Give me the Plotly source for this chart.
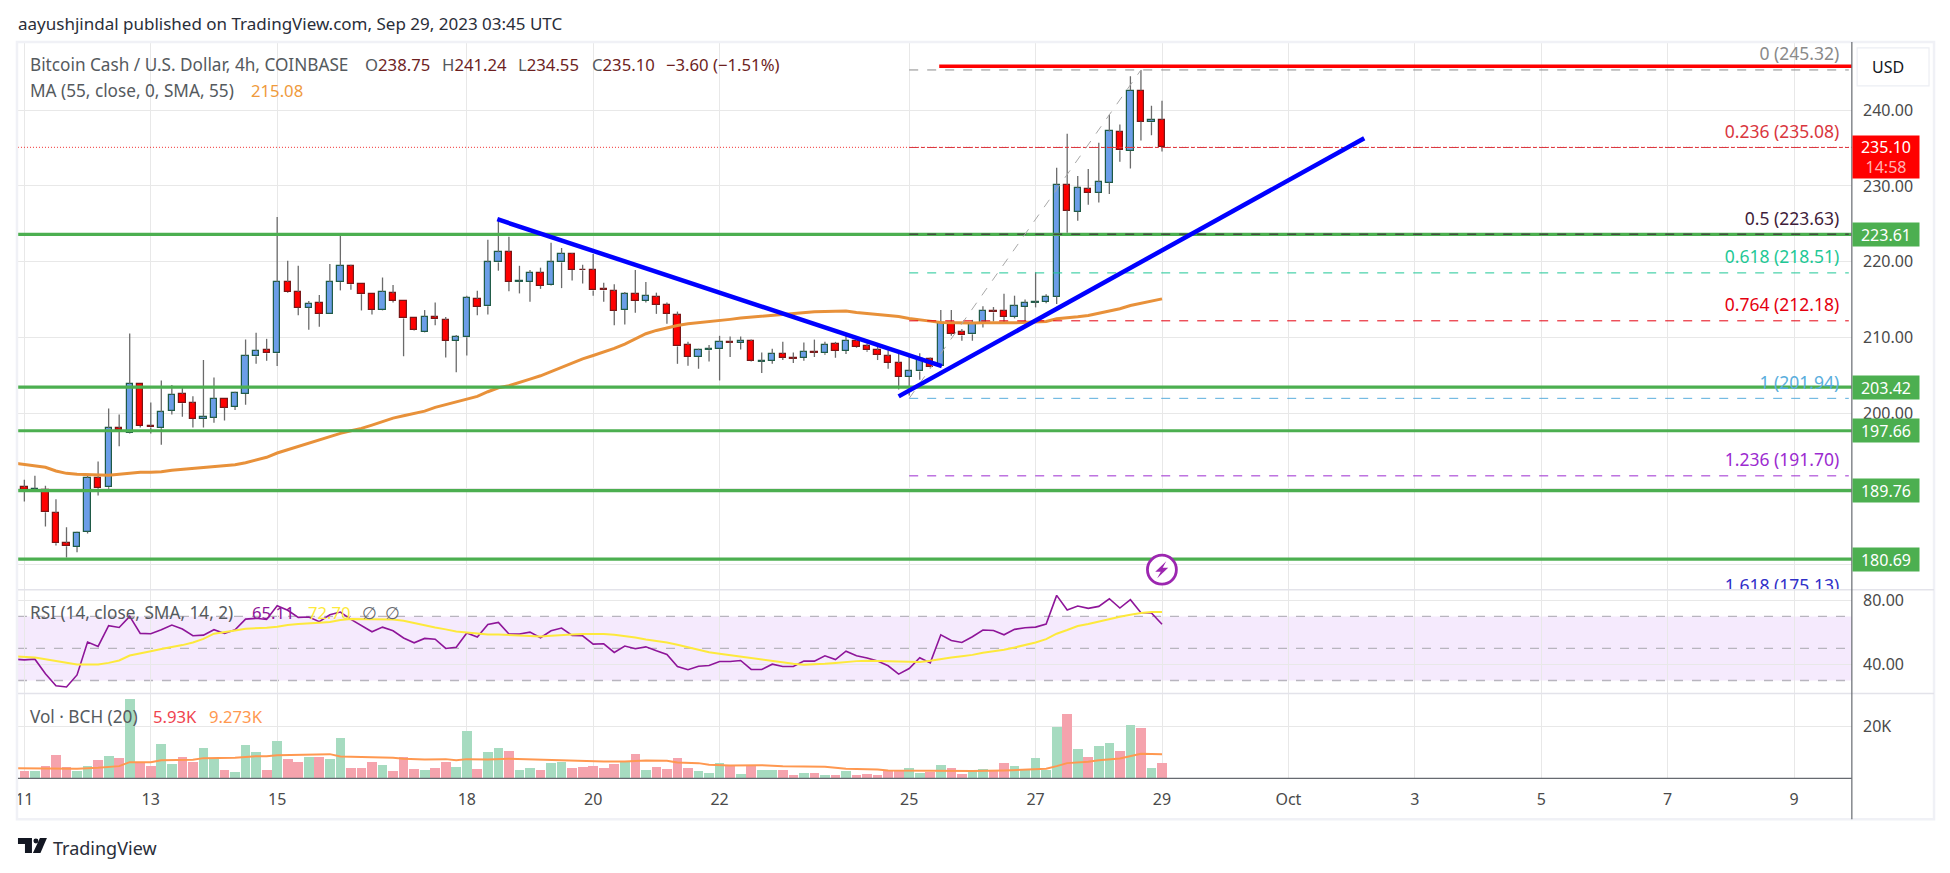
import plotly.graph_objects as go

W, H = 1950, 873

# ---------- data (one bar every 4h, index 0 = Sep 11 00:00) ----------
opens = [190.2,189.8,189.9,186.8,182.8,182.3,184.3,191.4,190.2,198.0,197.4,203.9,198.3,198.0,200.3,202.5,201.3,199.2,199.4,201.85,200.8,202.5,207.5,208.3,207.9,217.3,216.0,213.9,
         214.5,213.1,217.3,219.4,217.0,215.7,213.6,215.8,214.8,212.5,210.7,212.7,212.3,209.5,210.0,215.05,214.1,219.9,221.25,217.3,217.3,218.5,216.9,219.9,221.0,218.9,218.9,216.4,216.1,
         213.6,215.7,214.8,215.3,214.3,212.9,209.0,207.4,208.3,208.45,209.4,209.24,209.5,206.8,206.9,207.8,207.3,207.26,208.07,207.9,209.1,208.2,209.5,208.8,208.3,207.5,206.6,204.75,
         205.5,207.1,206.2,211.9,210.7,210.4,211.75,213.5,213.5,212.7,214.0,214.6,214.65,215.4,230.1,226.6,229.6,229.1,230.45,237.1,234.6,242.6,238.4,238.75]
highs = [191.2,191.7,190.4,188.6,184.9,184.3,191.9,193.6,200.6,199.8,210.5,203.9,201.4,204.3,203.7,203.3,202.2,207.0,204.7,201.85,202.8,209.7,210.6,209.8,225.9,220.1,219.45,214.8,
         215.6,219.7,223.4,219.6,217.0,215.7,217.9,216.9,214.8,212.5,213.6,214.6,212.7,210.3,215.5,216.15,222.9,225.6,223.3,219.45,218.9,219.2,222.5,221.8,221.1,219.6,221.0,217.2,217.0,
         216.0,218.9,217.3,215.9,214.6,213.4,209.4,208.5,209.0,210.2,210.1,210.1,209.7,208.0,208.5,209.4,208.0,209.3,209.7,209.4,209.4,210.2,209.9,209.2,208.8,208.3,207.9,207.4,
         207.9,207.35,213.6,213.6,211.1,212.3,214.1,214.0,215.75,215.5,215.0,218.6,215.7,232.4,236.9,231.3,232.25,235.7,239.4,238.1,244.5,245.32,240.6,241.24]
lows  = [188.3,189.7,185.0,182.5,180.9,181.6,184.1,189.1,190.0,195.6,197.3,198.1,197.3,195.8,199.8,199.5,198.1,198.1,198.7,199.0,200.4,201.1,206.5,206.9,206.2,215.9,212.9,211.0,
         211.4,213.1,216.2,216.3,213.55,213.0,213.55,214.6,207.5,210.9,210.65,211.6,207.35,205.4,207.6,212.9,213.0,218.8,216.1,215.8,214.7,216.4,216.86,216.5,217.5,217.1,215.5,214.7,211.6,
         211.7,213.25,214.6,213.1,211.8,206.5,206.25,205.85,206.8,204.3,207.4,208.4,206.8,205.3,206.5,207.0,206.6,206.9,207.4,207.7,207.3,207.8,208.6,208.1,207.0,205.85,203.1,202.3,
         204.4,206.0,206.1,210.2,209.55,209.55,211.3,212.1,211.9,212.5,211.9,213.95,214.5,214.4,223.8,225.4,227.5,227.8,228.95,233.2,232.3,236.0,236.7,234.55]
closes= [189.8,190.0,186.9,182.8,182.4,184.2,191.4,190.05,198.0,197.8,203.8,198.3,198.1,200.1,202.4,201.3,199.2,199.5,201.85,200.7,202.6,207.5,208.2,207.9,217.3,216.0,213.9,214.4,
         213.1,217.3,219.4,217.0,215.7,213.6,216.0,214.8,212.5,211.0,212.7,212.4,209.5,210.0,215.2,214.0,219.9,221.25,217.3,217.4,218.5,216.8,219.9,221.0,218.9,218.85,216.2,216.2,213.5,
         215.7,214.8,215.45,214.3,213.1,208.8,207.4,208.3,208.45,209.4,209.3,209.5,206.9,206.86,207.8,207.3,207.2,208.05,208.0,209.0,208.2,209.5,208.7,208.3,207.7,206.6,204.75,205.5,
         207.1,206.1,211.9,210.5,210.25,211.75,213.5,213.3,212.7,214.1,214.5,214.65,215.4,230.1,226.75,229.7,229.1,230.5,237.2,234.7,242.6,238.5,238.7,235.10]

ma_idx = list(range(-1, 109))
ma55 = [193.4,193.18,193.05,192.83,192.34,192.03,191.9,191.86,191.81,191.77,191.9,192.08,192.17,192.17,192.25,192.43,192.56,192.65,192.74,192.87,193.0,193.18,193.44,193.75,194.15,194.72,195.16,195.6,196.0,
        196.43,196.91,197.31,197.66,197.97,198.41,198.85,199.33,199.64,199.95,200.25,200.74,201.09,201.4,201.75,202.19,202.81,203.33,203.6,203.99,204.48,204.92,205.49,206.06,206.59,207.16,207.6,208.04,208.53,
        209.11,209.77,210.47,210.91,211.27,211.57,211.79,211.93,212.01,212.19,212.37,212.54,212.67,212.76,212.89,213.03,213.2,213.29,213.38,213.42,213.42,213.47,213.29,213.16,213.03,212.89,212.76,212.5,
        212.36,212.14,211.97,211.92,211.88,211.88,211.92,211.88,211.92,211.92,212.01,212.06,212.1,212.45,212.54,212.72,212.89,213.16,213.46,213.77,214.21,214.48,214.74,215.08]

rsi = [43.3,42.9,43.3,34.2,26.7,26.0,33.5,54.0,51.3,64.2,63.1,70.0,59.4,59.2,61.7,64.6,62.1,57.9,58.3,61.7,59.4,61.7,68.3,68.8,68.1,76.7,73.8,69.4,69.6,66.7,71.0,72.7,68.1,64.4,60.4,63.3,61.0,56.5,53.5,56.25,55.8,50.0,50.8,59.6,57.1,65.0,66.25,59.0,59.0,60.2,56.7,61.0,62.7,58.1,57.9,52.7,52.9,47.5,51.5,49.8,51.0,48.5,46.25,38.75,36.7,38.95,39.4,41.9,41.9,42.5,36.9,36.9,40.2,38.75,38.75,42.1,42.1,45.4,43.1,48.3,45.4,44.0,42.1,39.2,34.0,37.5,44.2,41.0,58.5,55.0,53.75,57.3,61.5,61.25,58.5,61.9,62.9,63.3,65.2,83.1,74.0,76.5,75.0,76.25,81.0,75.2,80.4,72.3,72.1,65.11]
rsi_ma = [45.0,44.6,44.4,43.3,42.1,40.8,40.0,40.0,40.0,41.0,42.5,45.6,47.1,48.3,49.6,50.8,52.1,53.75,56.0,59.2,60.4,61.25,62.3,62.5,62.9,63.5,64.6,65.2,65.8,66.0,66.5,67.7,68.3,68.3,68.5,68.5,68.1,67.3,65.8,64.6,63.1,61.9,60.6,60.0,59.2,58.75,58.75,58.5,58.3,57.7,57.5,57.9,58.5,58.75,59.0,59.0,59.0,58.5,57.9,56.9,55.6,54.8,53.75,52.3,50.8,49.2,47.7,46.7,45.8,45.0,43.75,43.1,42.3,41.5,40.4,39.8,40.0,40.4,41.0,41.7,42.1,42.3,42.1,41.7,41.5,41.5,41.5,42.3,43.5,44.4,45.2,46.0,47.3,48.1,49.2,50.6,52.1,53.75,55.8,59.2,61.5,64.0,65.2,66.7,68.5,69.8,71.0,72.1,72.7,72.7]

volume = [3.17,3.17,5.08,9.29,4.70,3.17,5.08,7.38,8.91,8.15,30.71,5.98,5.08,13.5,5.85,8.53,6.61,11.97,7.89,3.55,2.79,13.12,10.44,3.55,14.64,7.76,6.61,8.53,8.53,7.76,15.79,4.32,4.32,6.61,5.47,3.17,8.53,3.94,3.55,4.32,6.61,4.70,18.47,3.94,10.44,11.97,10.82,3.55,4.32,3.55,6.23,6.61,4.32,4.70,5.08,4.32,5.85,6.61,9.67,3.55,4.70,3.94,8.15,4.32,3.17,2.41,6.23,5.08,2.02,4.96,3.55,3.55,3.55,1.64,2.41,2.41,1.64,1.64,3.17,1.64,2.02,1.64,3.17,3.55,4.32,2.41,2.79,5.47,4.32,2.02,3.55,3.94,3.55,6.23,5.08,3.55,8.15,3.55,20.0,24.97,11.58,8.53,12.73,13.88,10.82,20.76,19.62,4.32,5.93]
vol_ma_idx = [-1,5,7,9,10,12,13,16,17,20,22,23,24,26,29,30,32,35,36,38,40,41,42,44,46,48,50,55,57,59,61,62,64,65,67,70,72,76,78,81,82,84,87,90,93,96,97,98,99,101,102,104,106,108]
vol_ma = [3.94,3.68,4.07,4.7,6.23,6.23,6.99,7.12,7.76,7.89,8.53,8.53,8.91,9.16,9.29,8.4,8.27,7.89,7.51,7.25,7.38,6.99,7.38,7.25,7.51,7.25,6.87,6.49,6.49,6.87,6.74,6.1,5.85,5.21,4.96,5.08,4.7,4.45,3.68,3.43,3.04,2.92,2.79,2.79,3.04,3.43,3.68,4.7,5.85,6.36,6.99,7.63,9.42,9.27]

support_levels = [223.61, 203.42, 197.66, 189.76, 180.69]
support_labels = ["223.61", "203.42", "197.66", "189.76", "180.69"]
fib_ratio = ["0", "0.236", "0.5", "0.618", "0.764", "1", "1.236", "1.618"]
fib_price = [245.32, 235.08, 223.63, 218.51, 212.18, 201.94, 191.70, 175.13]
fib_color = ["#8a8a8a", "#d9363e", "#3f1d3a", "#1fc896", "#e5000f", "#5aaedd", "#9c2bd0", "#3030c8"]
fib_dash = ["dash", "dashdot", "dash", "dash", "dash", "dash", "dash", "dash"]

down_x, down_y = [44.9, 87.1], [225.6, 206.2]
up_x, up_y = [83.0, 127.2], [202.2, 236.3]
res_x, res_y = [86.85, 173.5], [245.8, 245.8]
fib_diag_x, fib_diag_y = [84, 106], [201.94, 245.32]
last_close = 235.10

x_ticks = [0, 12, 24, 42, 54, 66, 84, 96, 108, 120, 132, 144, 156, 168]
x_text = ["11", "13", "15", "18", "20", "22", "25", "27", "29", "Oct", "3", "5", "7", "9"]
price_ticks = [180, 190, 200, 210, 220, 230, 240]
price_text = ["", "", "200.00", "210.00", "220.00", "230.00", "240.00"]

# ---------- layout constants ----------
FONT = "Noto Sans"
L, R, T, B = 15, 1851.7, 41, 778.3
P1, P2 = 589.3, 693.3
FR, FB = 1934, 819.3
XMIN, XMAX = -0.607, 173.49
px = lambda x: x / W
py = lambda y: 1 - y / H

GRID = "#e8e8e8"
BLUE, BLUE_EDGE = "#6b9ee8", "#1f5a46"
RED, RED_EDGE = "#ff0000", "#7a1515"
n = len(closes)
idx = list(range(n))
up = [c >= o for o, c in zip(opens, closes)]

fig = go.Figure()


def line(x, y, color, width=1.0, dash="solid", yaxis="y", shape="linear"):
    fig.add_trace(go.Scatter(x=x, y=y, mode="lines", yaxis=yaxis, hoverinfo="skip", showlegend=False,
                             line=dict(color=color, width=width, dash=dash, shape=shape)))


# candles: wicks, then bodies
wx, wy = [], []
for i in idx:
    top, bot = max(opens[i], closes[i]), min(opens[i], closes[i])
    wx += [i, i, None, i, i, None]
    wy += [highs[i], top, None, bot, lows[i], None]
line(wx, wy, "#6b6b6b", 1.3)
fig.add_trace(go.Bar(x=idx, base=[min(o, c) for o, c in zip(opens, closes)],
                     y=[abs(c - o) for o, c in zip(opens, closes)], width=0.6, yaxis="y",
                     marker=dict(color=[BLUE if u else RED for u in up],
                                 line=dict(color=[BLUE_EDGE if u else RED_EDGE for u in up], width=1.2)),
                     hoverinfo="skip", showlegend=False))

line([XMIN, XMAX], [last_close, last_close], "#f23030", 1, "1px,2px")
line(ma_idx, ma55, "#e8913a", 3)

for p in support_levels:
    line([XMIN, XMAX], [p, p], "#4caf50", 3.2)

for p, col, d in zip(fib_price, fib_color, fib_dash):
    line([84, 173.2], [p, p], col, 1, d)
line(fib_diag_x, fib_diag_y, "#a8a8a8", 1, "dash")
fig.add_trace(go.Scatter(x=[172.3] * len(fib_price), y=[p + 1.85 for p in fib_price], mode="text",
                         text=[f"{r} ({p:.2f})" for r, p in zip(fib_ratio, fib_price)],
                         textposition="middle left", cliponaxis=True, yaxis="y", hoverinfo="skip", showlegend=False,
                         textfont=dict(family=FONT, size=17.5, color=fib_color)))

line(res_x, res_y, "#ff0000", 3.5)
line(down_x, down_y, "#0000ff", 4.5)
line(up_x, up_y, "#0000ff", 4.5)

# RSI pane
line(ma_idx, rsi, "#8e1599", 1.6, yaxis="y2")
line(ma_idx, rsi_ma, "#fde93c", 2, yaxis="y2")

# volume pane
fig.add_trace(go.Bar(x=idx, y=volume, width=0.92, yaxis="y3",
                     marker=dict(color=["#a6dbc0" if u else "#f5a3ad" for u in up], line=dict(width=0)),
                     hoverinfo="skip", showlegend=False))
line(vol_ma_idx, vol_ma, "#ff9850", 2, yaxis="y3")

# ---------- shapes ----------
shapes = [
    dict(type="rect", xref="x domain", yref="y2", x0=0, x1=1, y0=30, y1=70, layer="below",
         fillcolor="rgba(160,60,240,0.11)", line=dict(width=0)),
]
for v in (70, 50, 30):
    shapes.append(dict(type="line", xref="x domain", yref="y2", x0=0, x1=1, y0=v, y1=v, layer="below",
                       line=dict(color="#b8b5be", width=1.3, dash="dash")))
# frame, pane separators, scale lines
shapes += [
    dict(type="rect", xref="paper", yref="paper", x0=px(L - 1), x1=px(FR), y0=py(FB), y1=py(T),
         line=dict(color="#f0f1f6", width=2.5)),
    dict(type="line", xref="paper", yref="paper", x0=px(L), x1=px(FR), y0=py(P1), y1=py(P1),
         line=dict(color="#e3e3ea", width=1.5)),
    dict(type="line", xref="paper", yref="paper", x0=px(L), x1=px(FR), y0=py(P2), y1=py(P2),
         line=dict(color="#e3e3ea", width=1.5)),
    dict(type="line", xref="paper", yref="paper", x0=px(R), x1=px(R), y0=py(FB), y1=py(T),
         line=dict(color="#666a70", width=1.2)),
    dict(type="line", xref="paper", yref="paper", x0=px(L), x1=px(R), y0=py(B), y1=py(B),
         line=dict(color="#666a70", width=1.2)),
]
# USD button
shapes.append(dict(type="rect", xref="paper", yref="paper", x0=px(1857), x1=px(1929), y0=py(85), y1=py(47),
                   fillcolor="#ffffff", line=dict(color="#eceef3", width=1.2)))
# alert icon
cx, cy, r = 1160.7, 569.3, 14.5
shapes.append(dict(type="circle", xref="paper", yref="paper", x0=px(cx - r), x1=px(cx + r), y0=py(cy + r), y1=py(cy - r),
                   fillcolor="#ffffff", line=dict(color="#9c27b0", width=2.8)))


def poly(points, color):
    d = "M " + " L ".join(f"{px(x):.5f},{py(y):.5f}" for x, y in points) + " Z"
    return dict(type="path", xref="paper", yref="paper", path=d, fillcolor=color, line=dict(width=0))


shapes.append(poly([(1165, 561), (1154, 571.5), (1159.5, 571.5), (1156, 578), (1167, 567.5), (1161.5, 567.5)], "#9c27b0"))
# TradingView logo
shapes.append(poly([(15, 838), (29, 838), (29, 853), (22, 853), (22, 844), (15, 844)], "#131722"))
shapes.append(poly([(37, 838), (44, 838), (37.5, 853), (30, 853)], "#131722"))
shapes.append(dict(type="circle", xref="paper", yref="paper", x0=px(30.5), x1=px(35.5), y0=py(843.5), y1=py(838.5),
                   fillcolor="#131722", line=dict(width=0)))

# ---------- texts ----------
ann = []


def text(x, y, s, color="#555a5e", size=17.2, anchor="left"):
    ann.append(dict(xref="paper", yref="paper", x=px(x), y=py(y), text=s, showarrow=False, xanchor=anchor, yanchor="middle",
                    font=dict(family=FONT, size=size, color=color), borderpad=0, borderwidth=0))


VAL = "#6e1f1f"
text(15, 22.5, "aayushjindal published on TradingView.com, Sep 29, 2023 03:45 UTC", "#2a2e39", 17)
text(27, 63.5, "Bitcoin Cash / U.S. Dollar, 4h, COINBASE")
for x, lab, val in [(363, "O", "238.75"), (440, "H", "241.24"), (516, "L", "234.55"), (590, "C", "235.10")]:
    text(x, 63.5, f"{lab}<span style='color:{VAL}'>{val}</span>", size=16.7)
text(664, 63.5, "−3.60 (−1.51%)", VAL, 16.7)
text(27, 90, "MA (55, close, 0, SMA, 55)")
text(248, 90, "215.08", "#ef9a3c", 16.7)
text(27, 612.7, "RSI (14, close, SMA, 14, 2)")
text(249, 612.7, "65.11", "#8e1599", 16.7)
text(305, 612.7, "72.70", "#fde93c", 16.7)
text(360, 612.7, "∅", "#666a70", 16.7)
text(383, 612.7, "∅", "#666a70", 16.7)
text(27, 716.7, "Vol · BCH (20)")
text(150, 716.7, "5.93K", "#f0444f", 16.7)
text(206, 716.7, "9.273K", "#ff9850", 16.7)
text(50, 848, "TradingView", "#2a2e39", 18)
text(1872, 66, "USD", "#131722", 16)

for p, lab in zip(support_levels, support_labels):
    ann.append(dict(xref="paper", yref="y", x=px(R), y=p, text=lab, showarrow=False, xanchor="left", yanchor="middle",
                    width=62, height=19, bgcolor="#4caf50", borderpad=2, align="center",
                    font=dict(family=FONT, size=16, color="#ffffff")))
ann.append(dict(xref="paper", yref="y", x=px(R), y=last_close, yshift=-9.5,
                text="235.10<br><span style='color:#ffb3b3'>14:58</span>", showarrow=False,
                xanchor="left", yanchor="middle", width=62, height=38, bgcolor="#ff0000", borderpad=2, align="center",
                font=dict(family=FONT, size=16, color="#ffffff")))

axfont = dict(family=FONT, size=16, color="#4a4a4a")
yax = dict(side="right", showline=False, zeroline=False, showgrid=True, gridcolor=GRID, gridwidth=1.3,
           ticks="outside", ticklen=7, tickcolor="rgba(0,0,0,0)", tickmode="array", tickfont=axfont, anchor="x", fixedrange=True)

fig.update_layout(
    width=W, height=H, autosize=False, margin=dict(l=0, r=0, t=0, b=0),
    paper_bgcolor="#ffffff", plot_bgcolor="#ffffff", barmode="overlay", bargap=0, showlegend=False,
    xaxis=dict(domain=[px(L), px(R)], range=[XMIN, XMAX], anchor="y3", tickmode="array", tickvals=x_ticks, ticktext=x_text,
               showgrid=True, gridcolor=GRID, gridwidth=1.3, zeroline=False, showline=False, ticks="outside", ticklen=6,
               tickcolor="rgba(0,0,0,0)", tickfont=axfont, fixedrange=True),
    yaxis=dict(domain=[py(P1), py(T)], range=[176.67, 249.02], tickvals=price_ticks, ticktext=price_text, **yax),
    yaxis2=dict(domain=[py(P2), py(P1)], range=[21.9, 86.7], tickvals=[40, 80], ticktext=["40.00", "80.00"], **yax),
    yaxis3=dict(domain=[py(B), py(P2)], range=[0, 32.5], tickvals=[20], ticktext=["20K"], **yax),
    shapes=shapes, annotations=ann,
)

fig.write_html("out.html", post_script="document.body.style.margin='0';document.body.style.overflow='hidden';",
               config={"displayModeBar": False})
